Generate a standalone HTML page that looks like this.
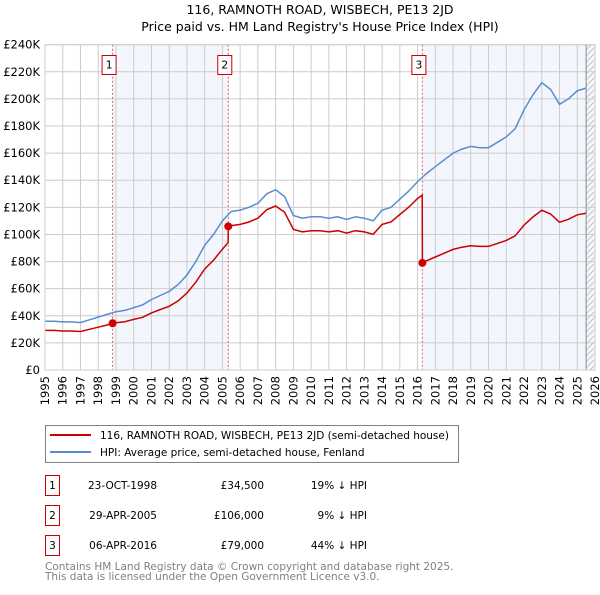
<!DOCTYPE html>
<html><head><meta charset="utf-8"><style>
body{margin:0;background:#fff;font-family:"Liberation Sans","DejaVu Sans",sans-serif;}
svg text{font-family:"DejaVu Sans","Liberation Sans",sans-serif;}
</style></head><body>
<svg id="c" width="600" height="590" xmlns="http://www.w3.org/2000/svg">
<text x="320" y="14" text-anchor="middle" font-size="12.5" fill="#000">116, RAMNOTH ROAD, WISBECH, PE13 2JD</text>
<text x="320" y="31" text-anchor="middle" font-size="12.5" fill="#000">Price paid vs. HM Land Registry's House Price Index (HPI)</text>
<g id="plot"></g>
<g>
<rect x="45.5" y="425.5" width="413" height="37" fill="#fff" stroke="#808080"/>
<line x1="50" y1="435" x2="91" y2="435" stroke="#cc0000" stroke-width="2"/>
<text x="100" y="439" font-size="10.5">116, RAMNOTH ROAD, WISBECH, PE13 2JD (semi-detached house)</text>
<line x1="50" y1="452" x2="91" y2="452" stroke="#5b8bd0" stroke-width="2"/>
<text x="100" y="456" font-size="10.5">HPI: Average price, semi-detached house, Fenland</text>
</g>
<g id="tbl" font-size="10.5"></g>
<text x="45" y="570" font-size="10.5" fill="#808080">Contains HM Land Registry data © Crown copyright and database right 2025.</text>
<text x="45" y="580" font-size="10.5" fill="#808080">This data is licensed under the Open Government Licence v3.0.</text>
</svg>
<script>
const hpiYears=[1995,1995.5,1996,1996.5,1997,1997.5,1998,1998.5,1999,1999.5,2000,2000.5,2001,2001.5,2002,2002.5,2003,2003.5,2004,2004.5,2005,2005.5,2006,2006.5,2007,2007.5,2008,2008.5,2009,2009.5,2010,2010.5,2011,2011.5,2012,2012.5,2013,2013.5,2014,2014.5,2015,2015.5,2016,2016.5,2017,2017.5,2018,2018.5,2019,2019.5,2020,2020.5,2021,2021.5,2022,2022.5,2023,2023.5,2024,2024.5,2025,2025.5];
const hpiValues=[36,36,35.5,35.5,35,37,39,41,43,44,46,48,52,55,58,63,70,80,92,100,110,117,118,120,123,130,133,128,114,112,113,113,112,113,111,113,112,110,118,120,126,132,139,145,150,155,160,163,165,164,164,168,172,178,192,203,212,207,196,200,206,208];
const redYears=[1995,1995.5,1996,1996.5,1997,1997.5,1998,1998.5,1998.81,1999,1999.5,2000,2000.5,2001,2001.5,2002,2002.5,2003,2003.5,2004,2004.5,2005,2005.32,2005.33,2005.5,2006,2006.5,2007,2007.5,2008,2008.5,2009,2009.5,2010,2010.5,2011,2011.5,2012,2012.5,2013,2013.5,2014,2014.5,2015,2015.5,2016,2016.26,2016.27,2016.5,2017,2017.5,2018,2018.5,2019,2019.5,2020,2020.5,2021,2021.5,2022,2022.5,2023,2023.5,2024,2024.5,2025,2025.5];
const redValues=[29.2,29.2,28.8,28.8,28.4,30,31.6,33.2,34.5,34.8,35.6,37.3,38.9,42.1,44.6,47,51,56.7,64.8,74.5,81,89.1,94,106,106.5,107.4,109.2,112,118.3,121,116.5,103.7,101.9,102.8,102.8,101.9,102.8,101,102.8,101.9,100.1,107.4,109.2,114.7,120.1,126.5,129,79,80.6,83.4,86.2,89,90.6,91.7,91.2,91.2,93.4,95.6,99,106.8,112.9,117.9,115.1,109,111.2,114.5,115.6];
const saleYears=[1998.81,2005.33,2016.27];
const saleValues=[34.5,106,79];
const saleLabels=["1","2","3"];
const saleDates=["23-OCT-1998","29-APR-2005","06-APR-2016"];
const salePrices=["£34,500","£106,000","£79,000"];
const saleDiffs=["19% ↓ HPI","9% ↓ HPI","44% ↓ HPI"];
const yTicks=[0,20,40,60,80,100,120,140,160,180,200,220,240];
const xTicks=[1995,1996,1997,1998,1999,2000,2001,2002,2003,2004,2005,2006,2007,2008,2009,2010,2011,2012,2013,2014,2015,2016,2017,2018,2019,2020,2021,2022,2023,2024,2025,2026];
const X0=45,X1=595,Y0=370,Y1=44.7;
const sx=y=>X0+(y-1995)/(2026-1995)*(X1-X0);
const sy=v=>Y0-v/240*(Y0-Y1);
const NS="http://www.w3.org/2000/svg";
const plot=document.getElementById('plot');
function mk(tag,attrs,parent){const e=document.createElementNS(NS,tag);for(const k in attrs)e.setAttribute(k,attrs[k]);(parent||plot).appendChild(e);return e;}
let r=mk('rect',{x:sx(saleYears[0]),y:Y1,width:sx(saleYears[1])-sx(saleYears[0]),height:Y0-Y1,fill:'#eef3fc',opacity:0.7});


r=mk('rect',{x:sx(saleYears[2]),y:Y1,width:X1-sx(saleYears[2]),height:Y0-Y1,fill:'#eef3fc',opacity:0.7});


const defs=mk('defs',{});
const pat=mk('pattern',{id:'hatch',width:6,height:6,patternUnits:'userSpaceOnUse'},defs);
mk('path',{d:'M0,6 L6,0',stroke:'#bbb','stroke-width':0.8},pat);
r=mk('rect',{x:sx(2025.5),y:Y1,width:X1-sx(2025.5),height:Y0-Y1,fill:'url(#hatch)'});


yTicks.forEach(v=>{
 const l=mk('line',{x1:X0,x2:X1,y1:sy(v),y2:sy(v),stroke:'#cccccc'});
 
 
 const t=mk('text',{x:40,y:sy(v)+4,'text-anchor':'end','font-size':11.5,fill:'#000'});
 t.textContent='£'+(v===0?'0':v+'K');
 
 
});
xTicks.forEach(y=>{
 const l=mk('line',{x1:sx(y),x2:sx(y),y1:Y1,y2:Y0,stroke:'#cccccc'});
 
 
 const t=mk('text',{x:0,y:0,'font-size':11.5,'text-anchor':'end',transform:`translate(${sx(y)+4},${Y0+6}) rotate(-90)`});
 t.textContent=y;
 
 
});
const vb=mk('line',{x1:sx(2025.5),x2:sx(2025.5),y1:Y1,y2:Y0,stroke:'#888'});


saleYears.forEach((y,i)=>{
 const l=mk('line',{x1:sx(y),x2:sx(y),y1:Y1,y2:Y0,stroke:'#e06060','stroke-dasharray':'2,2'});
 
 
});
const pts=(xs,vs)=>xs.map((y,i)=>sx(y).toFixed(1)+','+sy(vs[i]).toFixed(1)).join(' ');
let p=mk('polyline',{points:pts(hpiYears,hpiValues),fill:'none',stroke:'#5b8bd0','stroke-width':1.5});


p=mk('polyline',{points:pts(redYears,redValues),fill:'none',stroke:'#cc0000','stroke-width':1.5});


saleYears.forEach((y,i)=>{
 const c=mk('circle',{cx:sx(y),cy:sy(saleValues[i]),r:4,fill:'#cc0000'});
 
 
 const g=mk('g',{});
 
 
 mk('rect',{x:sx(y)-10.5,y:55.5,width:14,height:19,fill:'#fff',stroke:'#cc0000'},g);
 const t=mk('text',{x:sx(y)-3.5,y:68.5,'text-anchor':'middle','font-size':11},g);
 t.textContent=saleLabels[i];
});
const border=mk('rect',{x:X0,y:Y1,width:X1-X0,height:Y0-Y1,fill:'none',stroke:'#ccc'});


const tbl=document.getElementById('tbl');
saleLabels.forEach((s,i)=>{
 const yy=475+i*30;
 const g=mk('g',{},tbl);
 
 
 mk('rect',{x:45.5,y:yy+0.5,width:14,height:20,fill:'none',stroke:'#cc0000'},g);
 let t=mk('text',{x:52.5,y:yy+14,'text-anchor':'middle'},g);t.textContent=s;
 t=mk('text',{x:157,y:yy+14,'text-anchor':'end'},g);t.textContent=saleDates[i];
 t=mk('text',{x:264,y:yy+14,'text-anchor':'end'},g);t.textContent=salePrices[i];
 t=mk('text',{x:367,y:yy+14,'text-anchor':'end'},g);t.textContent=saleDiffs[i];
});
</script>
</body></html>
